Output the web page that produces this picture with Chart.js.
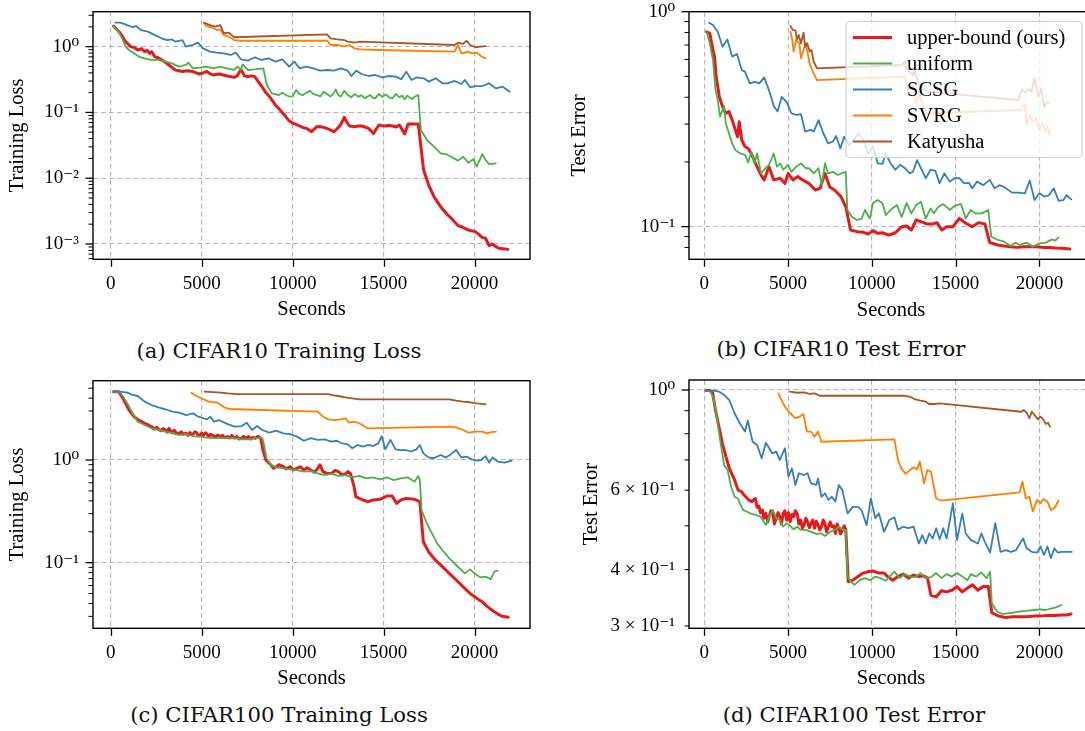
<!DOCTYPE html>
<html>
<head>
<meta charset="utf-8">
<title>CIFAR training curves</title>
<script src="https://cdn.jsdelivr.net/npm/chart.js@4.4.1/dist/chart.umd.min.js"></script>
<style>
  html, body { margin: 0; padding: 0; background: #fff; overflow: hidden; }
  body { position: relative; width: 1085px; height: 731px; }
  canvas { position: absolute; }
  .caption {
    position: absolute; width: 400px; text-align: center;
    font-family: "DejaVu Serif", serif; font-size: 21.2px; line-height: 24px; color: #111;
  }
</style>
</head>
<body>
<canvas id="chartA" width="545" height="330" style="left:0;top:0"></canvas>
<canvas id="chartB" width="560" height="330" style="left:545px;top:0"></canvas>
<canvas id="chartC" width="545" height="330" style="left:0;top:365px"></canvas>
<canvas id="chartD" width="560" height="330" style="left:545px;top:365px"></canvas>
<div class="caption" style="left:79px;top:339px">(a) CIFAR10 Training Loss</div>
<div class="caption" style="left:641px;top:337px">(b) CIFAR10 Test Error</div>
<div class="caption" style="left:79px;top:703px">(c) CIFAR100 Training Loss</div>
<div class="caption" style="left:654px;top:703px">(d) CIFAR100 Test Error</div>

<script>
const methodNames = ['upper-bound (ours)', 'uniform', 'SCSG', 'SVRG', 'Katyusha'];
const methodColors = ['#e41a1c', '#4daf4a', '#377eb8', '#ff7f00', '#a65628'];

const secondsTicks = [0, 5000, 10000, 15000, 20000];

const lossTicksA = [1e-3, 1e-2, 1e-1, 1];
const lossLabelsA = ['10⁻³', '10⁻²', '10⁻¹', '10⁰'];
const errTicksB = [1e-1, 1];
const errLabelsB = ['10⁻¹', '10⁰'];
const lossTicksC = [1e-1, 1];
const lossLabelsC = ['10⁻¹', '10⁰'];
const errTicksD = [0.3, 0.4, 0.6, 1];
const errLabelsD = ['3 × 10⁻¹', '4 × 10⁻¹', '6 × 10⁻¹', '10⁰'];

// [seconds, value] pairs per method

// CIFAR10 training loss
const c10LossOurs = [[150,2.06],[530,1.60],[815,1.19],[1100,1.0],[1300,0.97],[1480,0.89],[1700,0.93],[1860,0.84],[2000,0.88],[2140,0.79],[2250,0.84],[2420,0.70],[2600,0.68],[2800,0.63],[3000,0.58],[3180,0.53],[3380,0.48],[3560,0.44],[3750,0.43],[3940,0.42],[4200,0.43],[4510,0.42],[4700,0.40],[4890,0.384],[5080,0.40],[5270,0.42],[5450,0.39],[5640,0.371],[5830,0.38],[6020,0.384],[6200,0.37],[6400,0.358],[6600,0.35],[6780,0.342],[6950,0.36],[7160,0.45],[7350,0.36],[7540,0.35],[7720,0.36],[7920,0.35],[8110,0.294],[8300,0.25],[8490,0.207],[8680,0.18],[8860,0.155],[9050,0.13],[9240,0.115],[9430,0.10],[9620,0.0863],[9800,0.075],[10000,0.0683],[10190,0.066],[10380,0.0622],[10570,0.059],[10760,0.0573],[11040,0.051],[11330,0.0608],[11500,0.061],[11700,0.0593],[11900,0.057],[12080,0.0541],[12270,0.051],[12400,0.055],[12560,0.0608],[12700,0.07],[12840,0.0843],[13000,0.07],[13130,0.0622],[13410,0.0608],[13600,0.062],[13790,0.0622],[13980,0.06],[14170,0.0573],[14450,0.0481],[14600,0.056],[14740,0.0644],[14900,0.063],[15110,0.0622],[15300,0.064],[15490,0.0622],[15700,0.060],[15870,0.0644],[16000,0.056],[16160,0.047],[16350,0.0667],[16630,0.0667],[16910,0.0667],[17010,0.0381],[17200,0.0133],[17480,0.00788],[17770,0.00524],[17950,0.0044],[18140,0.00369],[18520,0.00276],[18700,0.0025],[18900,0.00218],[19100,0.0019],[19280,0.00183],[19660,0.00163],[20040,0.00154],[20230,0.0014],[20420,0.00126],[20610,0.00122],[20800,0.000942],[20990,0.001],[21150,0.00092],[21360,0.000859],[21840,0.000828]];
const c10LossUniform = [[150,2.06],[435,1.69],[625,1.34],[815,1.0],[1000,0.89],[1290,0.79],[1570,0.70],[1860,0.665],[2235,0.63],[2615,0.63],[2990,0.592],[3370,0.558],[3750,0.497],[4130,0.53],[4280,0.571],[4510,0.469],[4890,0.48],[5270,0.497],[5640,0.469],[6020,0.497],[6400,0.469],[6780,0.442],[6970,0.497],[7160,0.442],[7250,0.539],[7540,0.442],[7920,0.452],[8390,0.469],[8580,0.261],[8860,0.195],[9050,0.19],[9240,0.184],[9430,0.20],[9620,0.184],[9810,0.176],[10000,0.174],[10190,0.219],[10380,0.19],[10570,0.184],[10760,0.20],[10950,0.214],[11140,0.19],[11330,0.184],[11520,0.175],[11700,0.207],[11890,0.19],[12080,0.174],[12220,0.19],[12370,0.224],[12500,0.185],[12650,0.174],[12840,0.214],[13030,0.185],[13220,0.170],[13410,0.19],[13600,0.174],[13790,0.182],[13980,0.164],[14120,0.175],[14260,0.184],[14400,0.168],[14550,0.164],[14740,0.191],[14930,0.172],[15110,0.188],[15300,0.17],[15490,0.164],[15680,0.191],[15870,0.170],[16020,0.18],[16160,0.158],[16300,0.18],[16440,0.168],[16580,0.16],[16720,0.174],[16910,0.184],[17050,0.054],[17390,0.0381],[17770,0.0302],[18140,0.0239],[18430,0.0233],[18710,0.0212],[19090,0.0185],[19380,0.0212],[19660,0.0172],[19940,0.0194],[20130,0.0150],[20420,0.0233],[20610,0.0189],[20800,0.0164],[21170,0.0168]];
const c10LossScsg = [[246,2.32],[530,2.32],[910,2.13],[1190,1.97],[1380,2.06],[1670,1.79],[2045,1.69],[2425,1.50],[2800,1.34],[3090,1.26],[3370,1.29],[3560,1.19],[3940,1.26],[4130,1.0],[4510,1.06],[4790,1.15],[5075,0.94],[5455,0.84],[5835,0.81],[6210,0.79],[6590,0.747],[6875,0.81],[7160,0.642],[7540,0.612],[7920,0.689],[8300,0.627],[8675,0.665],[9055,0.592],[9430,0.642],[9810,0.497],[10095,0.592],[10380,0.469],[10760,0.497],[11135,0.469],[11515,0.432],[11895,0.442],[12270,0.432],[12650,0.469],[13030,0.432],[13220,0.358],[13505,0.432],[13790,0.384],[14165,0.358],[14545,0.371],[14925,0.342],[15300,0.358],[15680,0.350],[15965,0.319],[16250,0.417],[16535,0.311],[16820,0.342],[17200,0.330],[17480,0.294],[17860,0.330],[18240,0.277],[18520,0.277],[18900,0.301],[19280,0.271],[19470,0.311],[19755,0.241],[20040,0.252],[20420,0.252],[20800,0.277],[21170,0.232],[21550,0.246],[21930,0.207]];
const c10LossSvrg = [[5130,2.26],[5265,2.06],[5550,1.97],[5835,1.79],[6025,1.83],[6210,1.50],[6495,1.42],[6780,1.26],[7160,1.23],[11895,1.23],[12085,1.06],[12460,1.06],[12840,1.0],[13125,1.06],[13410,0.94],[13695,0.91],[14735,0.89],[18900,0.84],[19090,1.06],[19280,0.79],[19660,0.84],[19850,0.79],[20130,0.81],[20420,0.70],[20610,0.665]];
const c10LossKatyusha = [[5130,2.32],[5455,2.13],[5740,2.01],[6025,2.13],[6210,1.60],[6495,1.63],[6780,1.39],[11895,1.54],[12085,1.34],[12460,1.29],[12840,1.26],[13030,1.19],[13410,1.15],[13695,1.19],[18900,1.06],[19090,1.15],[19375,1.10],[19565,1.23],[19755,1.06],[20040,0.98],[20320,1.0],[20610,1.02]];

// CIFAR10 test error
const c10ErrOurs = [[134,0.807],[325,0.793],[516,0.663],[611,0.618],[707,0.499],[898,0.402],[1089,0.361],[1280,0.337],[1471,0.343],[1662,0.313],[1853,0.282],[1986,0.262],[2082,0.308],[2235,0.253],[2426,0.236],[2617,0.231],[2808,0.219],[3094,0.194],[3381,0.174],[3572,0.165],[3858,0.190],[4145,0.165],[4527,0.168],[4813,0.159],[5004,0.177],[5291,0.165],[5577,0.171],[5864,0.165],[6246,0.159],[6628,0.148],[6914,0.151],[7201,0.177],[7487,0.153],[7774,0.148],[8156,0.138],[8442,0.124],[8729,0.0965],[9111,0.0948],[9493,0.0941],[9779,0.0924],[10066,0.0958],[10352,0.0931],[10639,0.0937],[11021,0.0914],[11403,0.0937],[11785,0.100],[12071,0.1007],[12358,0.0965],[12644,0.1074],[12931,0.1055],[13313,0.1028],[13599,0.1028],[13886,0.1044],[14172,0.0965],[14459,0.100],[14841,0.100],[15223,0.1093],[15605,0.1037],[15987,0.100],[16369,0.1044],[16751,0.1028],[17037,0.0843],[17515,0.0822],[17897,0.0813],[18279,0.0807],[18661,0.0801],[19043,0.0807],[19425,0.0807],[19807,0.0807],[20189,0.0801],[20571,0.0801],[20953,0.0796],[21335,0.0793],[21812,0.0787]];
const c10ErrUniform = [[134,0.807],[325,0.713],[516,0.596],[669,0.432],[802,0.388],[936,0.325],[1089,0.349],[1184,0.364],[1280,0.303],[1471,0.272],[1662,0.244],[1853,0.227],[2139,0.219],[2426,0.216],[2617,0.199],[2808,0.223],[2999,0.197],[3152,0.219],[3381,0.177],[3572,0.184],[3858,0.194],[4145,0.219],[4336,0.190],[4527,0.197],[4718,0.184],[5004,0.194],[5195,0.180],[5482,0.190],[5768,0.197],[6055,0.187],[6246,0.187],[6532,0.177],[6819,0.187],[7010,0.156],[7201,0.197],[7392,0.177],[7678,0.180],[7965,0.174],[8251,0.178],[8442,0.180],[8538,0.1196],[8824,0.111],[9111,0.1074],[9397,0.109],[9588,0.1196],[9875,0.109],[10066,0.1284],[10352,0.133],[10639,0.1284],[10830,0.1133],[11116,0.1196],[11498,0.126],[11785,0.111],[12071,0.129],[12358,0.1153],[12644,0.126],[12931,0.1306],[13217,0.109],[13504,0.1217],[13695,0.1153],[13981,0.124],[14268,0.1274],[14650,0.1196],[14936,0.1248],[15318,0.1274],[15605,0.109],[15891,0.1196],[16178,0.1153],[16560,0.1153],[16942,0.1196],[17133,0.0898],[17515,0.0867],[17897,0.0851],[18279,0.0813],[18565,0.0843],[18852,0.0822],[19234,0.0843],[19616,0.0807],[19998,0.0836],[20380,0.0843],[20762,0.0873],[20953,0.0861],[21144,0.0892]];
const c10ErrScsg = [[287,0.889],[516,0.867],[802,0.807],[1089,0.687],[1375,0.743],[1662,0.618],[1948,0.636],[2235,0.535],[2426,0.526],[2712,0.464],[2999,0.472],[3285,0.464],[3572,0.495],[3858,0.432],[4145,0.364],[4374,0.343],[4622,0.402],[4909,0.381],[5195,0.337],[5482,0.331],[5768,0.334],[6017,0.277],[6341,0.282],[6532,0.277],[6819,0.313],[7105,0.272],[7392,0.244],[7678,0.249],[7869,0.264],[8118,0.231],[8347,0.262],[8633,0.240],[8920,0.253],[9206,0.272],[9493,0.253],[9779,0.219],[10066,0.236],[10352,0.197],[10639,0.196],[10830,0.219],[11116,0.197],[11403,0.184],[11689,0.194],[11976,0.187],[12262,0.177],[12453,0.180],[12702,0.204],[12931,0.187],[13217,0.168],[13504,0.184],[13790,0.182],[14039,0.159],[14325,0.177],[14650,0.162],[14936,0.168],[15223,0.168],[15509,0.159],[15796,0.160],[15987,0.151],[16273,0.162],[16655,0.156],[17037,0.165],[17324,0.151],[17610,0.156],[17897,0.153],[18374,0.144],[18756,0.144],[19138,0.143],[19425,0.164],[19711,0.133],[19998,0.143],[20284,0.138],[20571,0.140],[20857,0.151],[21144,0.132],[21430,0.133],[21621,0.140],[21908,0.134]];
const c10ErrSvrg = [[5138,0.807],[5253,0.738],[5329,0.652],[5482,0.738],[5673,0.713],[5768,0.607],[5921,0.663],[6055,0.713],[6284,0.575],[6475,0.526],[6723,0.481],[11976,0.499],[12167,0.432],[12453,0.456],[12644,0.375],[12835,0.417],[12931,0.388],[13122,0.355],[13313,0.337],[18852,0.349],[19138,0.372],[19234,0.297],[19425,0.331],[19616,0.308],[19807,0.319],[19998,0.282],[20189,0.303],[20342,0.277],[20475,0.294],[20609,0.267]];
const c10ErrKatyusha = [[5138,0.858],[5291,0.822],[5444,0.816],[5520,0.743],[5635,0.779],[5768,0.713],[5921,0.799],[6017,0.687],[6150,0.713],[6284,0.652],[6399,0.663],[6532,0.585],[6723,0.545],[11785,0.565],[11976,0.585],[12071,0.545],[12262,0.526],[12453,0.507],[12549,0.535],[12740,0.472],[12931,0.448],[13313,0.425],[18756,0.388],[18947,0.435],[19138,0.420],[19329,0.435],[19520,0.425],[19711,0.490],[19845,0.432],[19960,0.402],[20093,0.440],[20284,0.361],[20475,0.381],[20609,0.377]];

// CIFAR100 training loss
const c100LossOurs = [[152,4.63],[438,4.63],[723,3.84],[1009,3.07],[1294,2.64],[1579,2.42],[1865,2.28],[2050,2.2],[2246,2.11],[2400,2.0],[2530,2.08],[2626,1.99],[2750,1.93],[2880,2.02],[3007,1.96],[3100,1.87],[3197,2.03],[3300,1.9],[3387,1.89],[3500,1.95],[3600,1.83],[3768,1.82],[3880,1.88],[3980,1.78],[4149,1.82],[4250,1.74],[4350,1.85],[4450,1.78],[4529,1.79],[4620,1.88],[4719,1.85],[4810,1.72],[4910,1.75],[5000,1.83],[5100,1.74],[5200,1.84],[5290,1.79],[5400,1.69],[5500,1.78],[5671,1.71],[5760,1.66],[5860,1.75],[6052,1.69],[6150,1.74],[6250,1.65],[6432,1.69],[6550,1.64],[6650,1.74],[6813,1.63],[6920,1.69],[7050,1.6],[7193,1.63],[7300,1.7],[7400,1.62],[7574,1.69],[7700,1.6],[7800,1.66],[7955,1.63],[8100,1.7],[8240,1.63],[8373,1.25],[8525,1.0],[8811,0.894],[8950,0.83],[9096,0.861],[9250,0.9],[9477,0.861],[9650,0.82],[9858,0.861],[10050,0.8],[10238,0.829],[10420,0.86],[10619,0.799],[10800,0.84],[11000,0.799],[11200,0.76],[11380,0.829],[11500,0.9],[11665,0.770],[11900,0.74],[12141,0.742],[12330,0.79],[12522,0.770],[12700,0.72],[12902,0.731],[13050,0.77],[13188,0.731],[13378,0.550],[13473,0.44],[13854,0.408],[14139,0.393],[14425,0.408],[14805,0.414],[15186,0.446],[15471,0.446],[15719,0.378],[15947,0.408],[16233,0.423],[16709,0.414],[16994,0.393],[17184,0.160],[17470,0.128],[17850,0.106],[18231,0.0914],[18612,0.0787],[18992,0.0678],[19373,0.0583],[19753,0.0502],[20134,0.0449],[20419,0.0417],[20705,0.0373],[21085,0.0333],[21466,0.0303],[21846,0.0294]];
const c100LossUniform = [[152,4.63],[533,4.53],[913,3.56],[1199,2.85],[1484,2.36],[1865,2.19],[2246,2.03],[2626,1.96],[3007,1.89],[3387,1.82],[3768,1.75],[4149,1.79],[4529,1.71],[4910,1.69],[5290,1.65],[5671,1.63],[6052,1.63],[6432,1.63],[6813,1.63],[7193,1.59],[7574,1.59],[7955,1.63],[8335,1.63],[8430,1.40],[8564,1.04],[8811,0.894],[9096,0.848],[9477,0.829],[9858,0.811],[10238,0.799],[10619,0.770],[11000,0.781],[11380,0.742],[11761,0.714],[12141,0.731],[12522,0.699],[12902,0.714],[13283,0.678],[13664,0.699],[14044,0.663],[14425,0.678],[14805,0.648],[15186,0.678],[15567,0.638],[15947,0.663],[16328,0.678],[16709,0.615],[16899,0.699],[16994,0.638],[17089,0.326],[17374,0.242],[17660,0.193],[17945,0.154],[18231,0.133],[18612,0.110],[18992,0.0949],[19277,0.0849],[19468,0.0787],[19753,0.0861],[20039,0.0776],[20324,0.0720],[20610,0.0731],[20895,0.0689],[21085,0.0817],[21276,0.0836]];
const c100LossScsg = [[152,4.63],[533,4.63],[913,4.53],[1199,4.30],[1484,4.20],[1865,3.70],[2246,3.43],[2626,3.26],[3007,3.12],[3387,2.96],[3768,2.89],[4149,2.74],[4529,2.85],[4815,2.64],[5100,2.55],[5290,2.49],[5481,2.64],[5671,2.36],[5956,2.45],[6242,2.31],[6432,2.24],[6813,2.11],[7193,2.14],[7479,2.31],[7764,1.96],[8050,2.14],[8335,1.96],[8716,1.85],[9096,1.93],[9477,1.82],[9858,1.79],[10238,1.69],[10619,1.54],[11000,1.63],[11380,1.57],[11761,1.59],[12141,1.51],[12427,1.54],[12712,1.45],[12997,1.43],[13283,1.30],[13568,1.40],[13854,1.35],[14139,1.40],[14425,1.37],[14710,1.45],[14900,1.71],[15091,1.27],[15376,1.57],[15662,1.27],[15947,1.25],[16233,1.25],[16518,1.21],[16804,1.27],[16994,1.40],[17184,1.16],[17470,1.06],[17755,1.04],[18136,1.12],[18421,1.06],[18707,1.14],[18992,1.25],[19277,1.06],[19563,1.08],[19848,1.015],[20134,0.985],[20362,1.0],[20610,1.09],[20800,0.942],[20990,1.06],[21276,0.963],[21656,0.942],[22037,0.985]];
const c100LossSvrg = [[4434,4.53],[4719,4.20],[5100,3.90],[5385,3.70],[5861,3.62],[6242,3.26],[6622,3.12],[7003,3.12],[11380,2.96],[11665,2.64],[11951,2.49],[12331,2.45],[12617,2.49],[12902,2.55],[13093,2.31],[13378,2.36],[13664,2.28],[14139,2.03],[18612,2.11],[18992,2.08],[19373,1.96],[19658,1.85],[20039,1.89],[20419,1.89],[20705,1.82],[20895,1.87],[21180,1.89]];
const c100LossKatyusha = [[5157,4.63],[5861,4.56],[6432,4.46],[7003,4.39],[11951,4.39],[12236,4.26],[12522,4.20],[12902,4.08],[13283,3.99],[13664,3.90],[14044,3.90],[18612,3.90],[18992,3.78],[19373,3.70],[19753,3.65],[20134,3.56],[20610,3.48]];

// CIFAR100 test error
const c100ErrOurs = [[104,0.997],[353,0.997],[498,0.986],[664,0.903],[872,0.829],[1079,0.762],[1287,0.712],[1494,0.670],[1805,0.632],[2013,0.600],[2220,0.595],[2428,0.582],[2635,0.571],[2843,0.566],[3050,0.575],[3150,0.55],[3258,0.553],[3350,0.535],[3465,0.542],[3560,0.52],[3673,0.533],[3780,0.51],[3880,0.526],[3980,0.54],[4088,0.533],[4190,0.505],[4295,0.52],[4400,0.535],[4503,0.524],[4600,0.505],[4710,0.533],[4810,0.54],[4918,0.515],[5020,0.535],[5125,0.511],[5230,0.53],[5333,0.524],[5440,0.54],[5540,0.533],[5640,0.505],[5748,0.515],[5850,0.495],[5955,0.502],[6060,0.52],[6163,0.511],[6270,0.495],[6370,0.507],[6470,0.515],[6578,0.494],[6680,0.512],[6785,0.502],[6890,0.49],[6993,0.498],[7100,0.515],[7200,0.505],[7300,0.485],[7408,0.498],[7510,0.51],[7615,0.498],[7720,0.5],[7823,0.481],[7930,0.505],[8030,0.494],[8130,0.48],[8238,0.49],[8350,0.5],[8445,0.49],[8591,0.376],[8860,0.379],[9172,0.386],[9483,0.393],[9794,0.396],[10105,0.397],[10417,0.393],[10728,0.393],[10935,0.386],[11247,0.379],[11558,0.386],[11869,0.391],[12180,0.383],[12492,0.389],[12803,0.386],[13114,0.387],[13322,0.383],[13529,0.351],[13840,0.348],[14152,0.359],[14463,0.357],[14774,0.360],[15085,0.367],[15397,0.357],[15708,0.364],[16019,0.370],[16330,0.360],[16642,0.367],[16953,0.367],[17160,0.321],[17575,0.3155],[17990,0.3134],[18405,0.3145],[18820,0.3145],[19235,0.3145],[19650,0.3155],[20065,0.3155],[20480,0.3167],[20895,0.3167],[21310,0.3173],[21622,0.3173],[21891,0.319]];
const c100ErrUniform = [[104,0.997],[353,0.992],[560,0.958],[768,0.858],[975,0.762],[1183,0.682],[1390,0.665],[1598,0.611],[1805,0.580],[2013,0.575],[2117,0.561],[2324,0.542],[2532,0.538],[2739,0.533],[3050,0.529],[3362,0.524],[3673,0.502],[3880,0.524],[4088,0.542],[4295,0.520],[4503,0.515],[4710,0.498],[4918,0.507],[5125,0.500],[5333,0.491],[5540,0.498],[5748,0.490],[6059,0.490],[6370,0.485],[6682,0.480],[6993,0.481],[7200,0.475],[7512,0.485],[7823,0.491],[8030,0.498],[8238,0.491],[8445,0.490],[8549,0.386],[8757,0.376],[8964,0.370],[9275,0.379],[9587,0.383],[9898,0.379],[10209,0.386],[10520,0.383],[10832,0.378],[11143,0.389],[11350,0.396],[11662,0.383],[11973,0.391],[12284,0.386],[12595,0.385],[12907,0.393],[13218,0.383],[13529,0.385],[13840,0.393],[14152,0.383],[14463,0.391],[14774,0.386],[15085,0.393],[15397,0.386],[15708,0.379],[15915,0.391],[16227,0.386],[16538,0.394],[16849,0.383],[17057,0.396],[17160,0.337],[17472,0.323],[17783,0.319],[18094,0.320],[18405,0.321],[18820,0.323],[19235,0.324],[19650,0.3255],[20065,0.3266],[20377,0.3255],[20688,0.328],[20999,0.330],[21310,0.334]];
const c100ErrScsg = [[104,0.997],[560,0.997],[872,0.992],[1183,0.975],[1494,0.950],[1805,0.888],[2117,0.844],[2428,0.809],[2594,0.855],[2884,0.768],[3154,0.755],[3424,0.706],[3673,0.764],[3880,0.743],[4046,0.724],[4295,0.730],[4503,0.700],[4814,0.743],[5022,0.643],[5229,0.670],[5437,0.616],[5644,0.654],[5955,0.648],[6163,0.654],[6370,0.621],[6682,0.616],[6785,0.637],[6993,0.580],[7200,0.590],[7408,0.571],[7615,0.580],[7823,0.566],[8030,0.616],[8238,0.600],[8549,0.533],[8860,0.551],[9172,0.551],[9379,0.542],[9690,0.502],[9939,0.575],[10209,0.520],[10417,0.533],[10728,0.485],[11039,0.515],[11350,0.522],[11558,0.490],[11869,0.498],[12180,0.494],[12492,0.498],[12803,0.457],[13010,0.477],[13218,0.457],[13425,0.481],[13633,0.469],[13840,0.494],[14048,0.467],[14255,0.494],[14463,0.469],[14836,0.561],[15085,0.465],[15397,0.533],[15604,0.481],[15915,0.465],[16330,0.457],[16538,0.481],[16745,0.461],[17057,0.436],[17368,0.507],[17679,0.438],[17990,0.442],[18302,0.438],[18613,0.442],[19028,0.469],[19235,0.446],[19547,0.438],[19858,0.436],[20065,0.450],[20273,0.431],[20480,0.450],[20688,0.424],[20895,0.446],[21103,0.436],[21310,0.438],[21622,0.438],[21933,0.438]];
const c100ErrSvrg = [[4420,0.983],[4607,0.950],[4814,0.918],[5125,0.888],[5437,0.866],[5706,0.873],[5914,0.885],[6121,0.809],[6370,0.809],[6578,0.788],[6785,0.809],[6993,0.768],[11350,0.777],[11558,0.700],[11765,0.670],[12014,0.652],[12284,0.665],[12492,0.674],[12699,0.667],[12865,0.694],[13114,0.621],[13322,0.665],[13529,0.659],[13840,0.575],[14152,0.569],[18820,0.593],[18986,0.627],[19194,0.575],[19401,0.580],[19609,0.538],[19858,0.571],[20065,0.561],[20231,0.573],[20480,0.566],[20688,0.542],[20895,0.547],[21144,0.569]];
const c100ErrKatyusha = [[5125,0.992],[5540,0.986],[5955,0.988],[6267,0.980],[6578,0.983],[6889,0.971],[11973,0.971],[12284,0.966],[12595,0.953],[12907,0.947],[13218,0.942],[13425,0.931],[13737,0.931],[14048,0.934],[18924,0.895],[19069,0.903],[19235,0.891],[19401,0.866],[19547,0.895],[19754,0.876],[19920,0.861],[20065,0.873],[20231,0.861],[20377,0.841],[20522,0.846],[20626,0.829]];

const GRID_COLOR = 'rgba(165,165,165,0.8)';
Chart.defaults.font.family = '"Liberation Serif", "DejaVu Serif", serif';
Chart.defaults.color = '#000';

function isDecade(v) {
  const e = Math.log10(v);
  return Math.abs(e - Math.round(e)) < 1e-9;
}

// all 1..9 x 10^k ticks inside [min, max]; labelled values are kept as given
function logTicks(min, max, labelled) {
  const out = [];
  for (let e = Math.floor(Math.log10(min)); e <= Math.ceil(Math.log10(max)); e++) {
    for (let m = 1; m <= 9; m++) {
      const v = m * Math.pow(10, e);
      if (v < min * 0.9999 || v > max * 1.0001) continue;
      const hit = labelled.find(l => Math.abs(l / v - 1) < 1e-6);
      const value = hit !== undefined ? hit : v;
      out.push({ value: value, major: isDecade(value) });
    }
  }
  return out;
}

// outward tick marks plus the full box around the plot
const frameAndTicks = {
  id: 'frameAndTicks',
  afterDraw(chart) {
    const { ctx, chartArea: a } = chart;
    const xs = chart.scales.x, ys = chart.scales.y;
    ctx.save();
    ctx.strokeStyle = '#000';
    xs.ticks.forEach(t => {
      const px = Math.round(xs.getPixelForValue(t.value)) + 0.5;
      ctx.lineWidth = 1.3;
      ctx.beginPath(); ctx.moveTo(px, a.bottom); ctx.lineTo(px, a.bottom + 7.5); ctx.stroke();
    });
    ys.ticks.forEach(t => {
      const py = ys.getPixelForValue(t.value);
      const len = t.major ? 7.5 : 4.5;
      ctx.lineWidth = t.major ? 1.3 : 1;
      ctx.beginPath(); ctx.moveTo(a.left, py); ctx.lineTo(a.left - len, py); ctx.stroke();
    });
    ctx.lineWidth = 1.4;
    ctx.strokeRect(a.left, a.top, a.right - a.left, a.bottom - a.top);
    ctx.restore();
  }
};

// legend box drawn inside the plot area of the top right panel
const insetLegend = {
  id: 'insetLegend',
  afterDraw(chart) {
    const { ctx } = chart;
    const bx = 301, by = 21.5, bw = 236, bh = 136;
    ctx.save();
    ctx.beginPath();
    ctx.roundRect(bx, by, bw, bh, 4);
    ctx.fillStyle = 'rgba(255,255,255,0.8)';
    ctx.fill();
    ctx.strokeStyle = '#d0d0d0';
    ctx.lineWidth = 1.2;
    ctx.stroke();
    ctx.font = '20.5px "Liberation Serif", serif';
    ctx.textBaseline = 'middle';
    chart.data.datasets.forEach((ds, i) => {
      const y = by + 16 + i * 26;
      ctx.strokeStyle = ds.borderColor;
      ctx.lineWidth = ds.borderWidth;
      ctx.beginPath(); ctx.moveTo(bx + 7, y); ctx.lineTo(bx + 46, y); ctx.stroke();
      ctx.fillStyle = '#000';
      ctx.fillText(ds.label, bx + 61, y + 1);
    });
    ctx.restore();
  }
};

function makeChart(id, geo, series, yRange, yValues, yLabels, yTitle, extra) {
  const datasets = series.map((pts, i) => ({
    label: methodNames[i],
    data: pts,
    borderColor: methodColors[i],
    borderWidth: i === 0 ? 3 : 1.8,
    pointRadius: 0,
    tension: 0,
    fill: false,
    borderJoinStyle: 'round',
    borderCapStyle: 'round',
    order: series.length - i
  }));
  return new Chart(document.getElementById(id), {
    type: 'line',
    data: { datasets: datasets },
    plugins: [frameAndTicks].concat(extra || []),
    options: {
      responsive: false,
      animation: false,
      devicePixelRatio: 1,
      layout: { padding: { left: 0, top: geo.top, right: geo.right, bottom: 0 } },
      plugins: { legend: { display: false }, tooltip: { enabled: false } },
      scales: {
        x: {
          type: 'linear',
          min: geo.xMin, max: geo.xMax, bounds: 'data',
          afterBuildTicks: s => { s.ticks = secondsTicks.map(v => ({ value: v, major: true })); },
          afterFit: s => { s.height = geo.xHeight; s.paddingLeft = 0; s.paddingRight = 0; },
          ticks: { autoSkip: false, maxRotation: 0, padding: 13, font: { size: 19 }, callback: v => String(v) },
          grid: { drawTicks: false, color: GRID_COLOR, lineWidth: 1.1 },
          border: { display: false, dash: [5, 3] },
          title: { display: true, text: 'Seconds', font: { size: 20.5 }, padding: { top: 0, bottom: geo.xTitlePad } }
        },
        y: {
          type: 'logarithmic',
          min: yRange[0], max: yRange[1], bounds: 'data',
          afterBuildTicks: s => { s.ticks = logTicks(yRange[0], yRange[1], yValues); },
          afterFit: s => { s.width = geo.left; s.paddingTop = 0; s.paddingBottom = 0; },
          ticks: {
            autoSkip: false, padding: 14, font: { size: 19 },
            callback: v => {
              const i = yValues.findIndex(l => Math.abs(l / v - 1) < 1e-6);
              return i >= 0 ? yLabels[i] : '';
            }
          },
          grid: {
            drawTicks: false, lineWidth: 1.1,
            color: ctx => (ctx.tick && ctx.tick.major) ? GRID_COLOR : 'rgba(0,0,0,0)'
          },
          border: { display: false, dash: [5, 3] },
          title: { display: true, text: yTitle, font: { size: 20.5 }, padding: { top: geo.yTitlePad, bottom: 0 } }
        }
      }
    }
  });
}

const leftGeo = { left: 93, right: 15, xMin: -975, xMax: 23050, yTitlePad: 5.5 };
const rightGeo = { left: 144, right: 12, xMin: -914, xMax: 23200 };

makeChart('chartA', Object.assign({}, leftGeo, { top: 11.7, xHeight: 70.7, xTitlePad: 8.4 }),
  [c10LossOurs, c10LossUniform, c10LossScsg, c10LossSvrg, c10LossKatyusha],
  [5.85e-4, 3.40], lossTicksA, lossLabelsA, 'Training Loss');

makeChart('chartB', Object.assign({}, rightGeo, { top: 11.7, xHeight: 70.7, xTitlePad: 7.4, yTitlePad: 22.4 }),
  [c10ErrOurs, c10ErrUniform, c10ErrScsg, c10ErrSvrg, c10ErrKatyusha],
  [0.0705, 1.0], errTicksB, errLabelsB, 'Test Error', [insetLegend]);

makeChart('chartC', Object.assign({}, leftGeo, { top: 15.7, xHeight: 66.7, xTitlePad: 4.4 }),
  [c100LossOurs, c100LossUniform, c100LossScsg, c100LossSvrg, c100LossKatyusha],
  [0.02296, 5.92], lossTicksC, lossLabelsC, 'Training Loss');

makeChart('chartD', Object.assign({}, rightGeo, { top: 15, xHeight: 66.7, xTitlePad: 4.4, yTitlePad: 34 }),
  [c100ErrOurs, c100ErrUniform, c100ErrScsg, c100ErrSvrg, c100ErrKatyusha],
  [0.2965, 1.0523], errTicksD, errLabelsD, 'Test Error');
</script>
</body>
</html>
